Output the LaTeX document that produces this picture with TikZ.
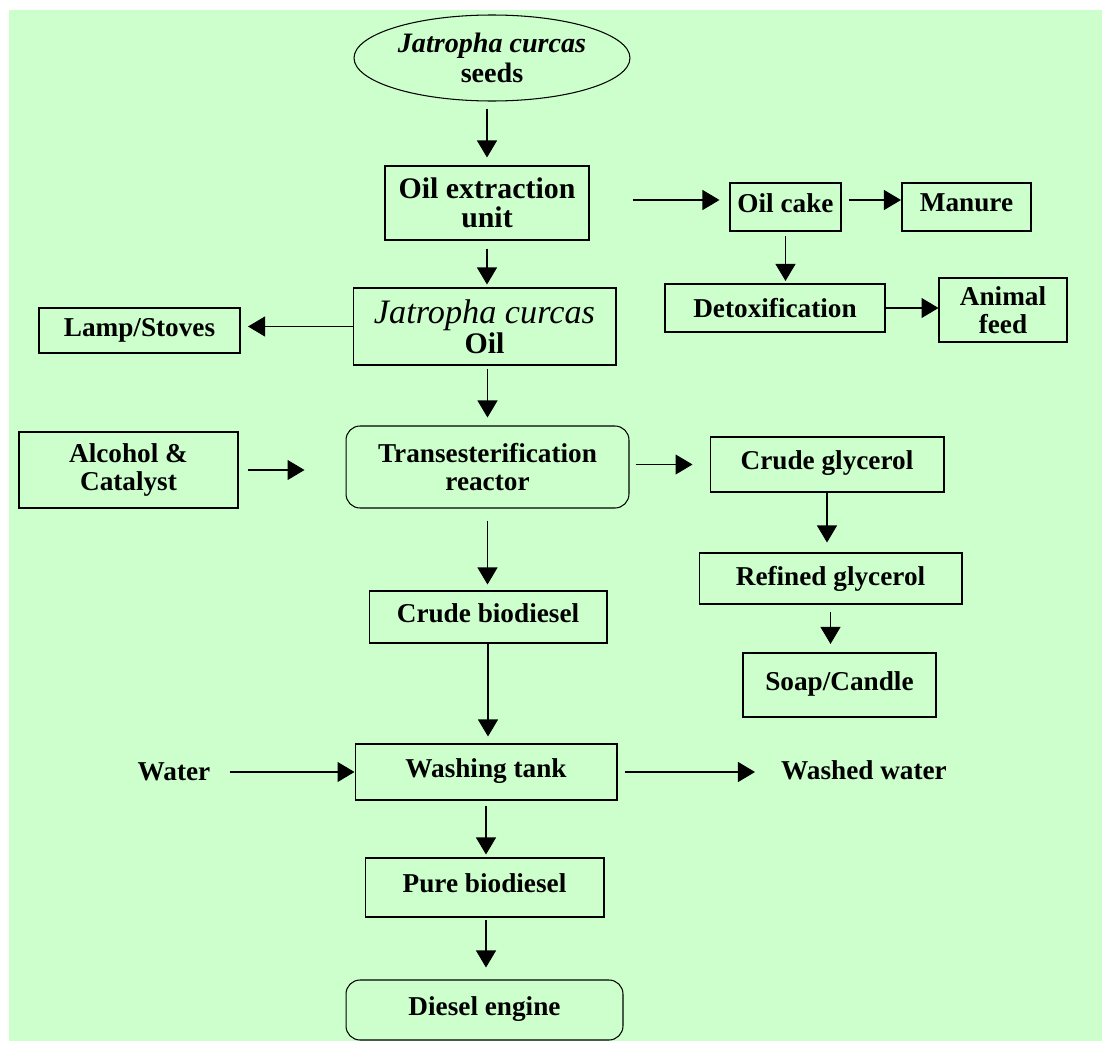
\documentclass[tikz,border=0pt]{standalone}
\usepackage{fontspec}
\setmainfont{Liberation Serif}
\usepackage{tikz}
\usetikzlibrary{arrows.meta, shapes.geometric, positioning}
\definecolor{mint}{HTML}{CCFFCC}
\tikzset{
>={Triangle[length=0.34cm, width=0.4cm]}, % big filled arrow heads
every node/.style={font=\bfseries\fontsize{15.5}{16}\selectfont, align=center}, % bold serif text everywhere
box/.style={draw, line width=0.6pt, inner sep=2pt}, % plain process box
thickbox/.style={box, line width=1.2pt}, % product boxes with a heavier frame
roundbox/.style={box, rounded corners=0.28cm}, % reactor and engine
hightext/.style={text depth=0.5em}, % lifts the text into the upper part of the box
flow/.style={draw, ->, line width=0.6pt}, % every connector
}

\begin{document}
\begin{tikzpicture}[x=0.02cm, y=-0.02cm]
    \useasboundingbox (0,0) rectangle (1102,1041);
    \fill[mint] (9,10) rectangle (1102,1041);

    % main line
    \node[draw, ellipse, line width=0.6pt, inner sep=0pt, minimum width=5.52cm, minimum height=1.72cm, font=\bfseries\fontsize{16}{17}\selectfont] (seeds) at (492,58) {\itshape Jatropha curcas\\seeds};
    \node[box, minimum width=4.08cm, minimum height=1.48cm, font=\bfseries\fontsize{17}{16.5}\selectfont] (extract) at (487,203) {Oil extraction\\unit};
    \node[box, minimum width=5.26cm, minimum height=1.54cm] (oil) at (484.5,326.5) {{\fontsize{19.5}{20}\selectfont\mdseries\itshape Jatropha curcas}\\[1pt]{\fontsize{17}{18}\selectfont Oil}};
    \node[roundbox, minimum width=5.66cm, minimum height=1.64cm] (trans) at (487.5,467) {Transesterification\\reactor};
    \node[box, hightext, minimum width=4.76cm, minimum height=1.04cm] (cbio) at (488,617) {Crude biodiesel};
    \node[box, hightext, minimum width=5.24cm, minimum height=1.12cm] (wash) at (486,772) {Washing tank};
    \node[box, hightext, minimum width=4.78cm, minimum height=1.18cm] (pure) at (484.5,887.5) {Pure biodiesel};
    \node[roundbox, hightext, minimum width=5.54cm, minimum height=1.2cm] (diesel) at (484.5,1010) {Diesel engine};

    % side branches
    \node[box, hightext, minimum width=2.22cm, minimum height=0.96cm] (oilcake) at (785.5,207) {Oil cake};
    \node[thickbox, hightext, minimum width=2.58cm, minimum height=0.96cm] (manure) at (966.5,207) {Manure};
    \node[thickbox, minimum width=4.4cm, minimum height=0.96cm] (detox) at (775,308) {Detoxification};
    \node[box, minimum width=2.56cm, minimum height=1.28cm] (feed) at (1003,310) {Animal\\feed};
    \node[thickbox, minimum width=4.02cm, minimum height=0.9cm] (lamp) at (139.5,330.5) {Lamp/Stoves};
    \node[box, minimum width=4.38cm, minimum height=1.52cm] (alcohol) at (128.5,470) {Alcohol \&\\Catalyst};
    \node[box, hightext, minimum width=4.68cm, minimum height=1.1cm] (cglyc) at (827,464.5) {Crude glycerol};
    \node[box, minimum width=5.26cm, minimum height=1.02cm] (rglyc) at (830.5,578.5) {Refined glycerol};
    \node[thickbox, hightext, minimum width=3.86cm, minimum height=1.28cm] (soap) at (839.5,685) {Soap/Candle};
    \node (water) at (174,772) {Water};
    \node (washed) at (864,770) {Washed water};

    \path[every edge/.style={flow}]
        (seeds.south -| extract.north) edge[shorten <=0.14cm, shorten >=0.16cm] (extract.north)
        (extract.south) edge[shorten <=0.16cm, shorten >=0.06cm] (extract.south |- oil.north)
        (trans.north |- oil.south) edge[shorten <=0.06cm, shorten >=0.16cm] (trans.north)
        (trans.south) edge[shorten <=0.24cm, shorten >=0.12cm] (trans.south |- cbio.north)
        (cbio.south) edge[shorten >=0.14cm] (cbio.south |- wash.north)
        (wash.south) edge[shorten <=0.1cm, shorten >=0.06cm] (wash.south |- pure.north)
        (wash.south |- pure.south) edge[shorten <=0.04cm, shorten >=0.24cm] (wash.south |- diesel.north);

    \path[every edge/.style={flow}]
        ([yshift=0.14cm]oilcake.west -| extract.east) edge[shorten <=0.86cm, shorten >=0.2cm] ([yshift=0.14cm]oilcake.west)
        ([yshift=0.14cm]oilcake.east) edge[shorten <=0.14cm] ([yshift=0.14cm]oilcake.east -| manure.west)
        (oilcake.south) edge[shorten <=0.08cm, shorten >=0.04cm] (oilcake.south |- detox.north)
        (detox.east) edge (detox.east -| feed.west)
        (oil.west) edge[shorten >=0.14cm] (oil.west -| lamp.east)
        (alcohol.east) edge[shorten <=0.18cm, shorten >=0.82cm] (alcohol.east -| trans.west)
        (trans.east |- cglyc.west) edge[shorten <=0.12cm, shorten >=0.34cm] (cglyc.west)
        (cglyc.south) edge[shorten >=0.2cm] (cglyc.south |- rglyc.north)
        (rglyc.south) edge[shorten <=0.14cm, shorten >=0.16cm] (rglyc.south |- soap.north)
        (water.east) edge[shorten <=0.26cm] (water.east -| wash.west)
        (wash.east) edge[shorten <=0.14cm, shorten >=0.4cm] (wash.east -| washed.west);

\end{tikzpicture}
\end{document}
